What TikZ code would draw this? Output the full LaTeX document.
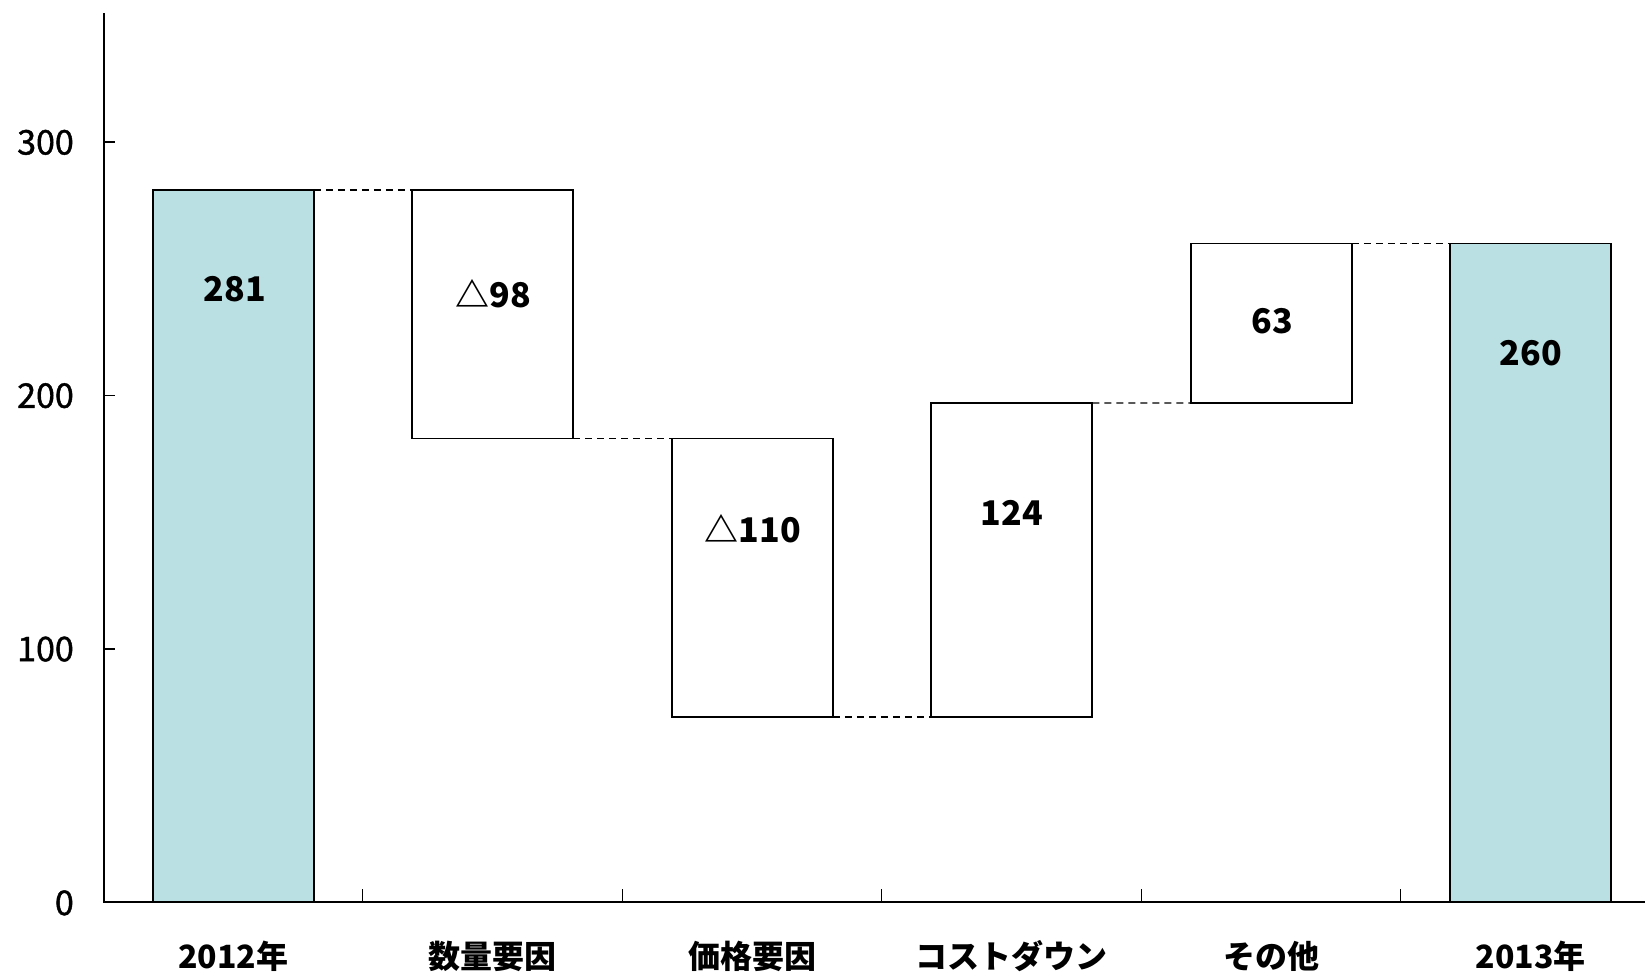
\documentclass[tikz,border=0pt]{standalone}
\usepackage{fontspec}
\setmainfont{Noto Sans CJK JP}
\newfontfamily\tickfont[FakeBold=1.2]{Noto Sans CJK JP}
\begin{document}
\begin{tikzpicture}[x=1pt,y=-1pt,
  axisline/.style={line width=2pt,black},
  barbox/.style={draw=black,line width=1.6pt,inner sep=0pt,outer sep=0pt,minimum width=161pt,anchor=north},
  total/.style={barbox,fill=barfill},
  delta/.style={barbox,fill=white},
  link/.style={line width=1.3pt,dash pattern=on 7pt off 5pt},
  vlabel/.style={anchor=base,inner sep=0pt,font=\fontsize{34}{40}\selectfont\bfseries},
  catlabel/.style={anchor=base,inner sep=0pt,font=\fontsize{32}{38}\selectfont\bfseries},
  ticklabel/.style={anchor=base east,inner sep=0pt,font=\fontsize{34}{40}\tickfont\selectfont}]
\definecolor{barfill}{RGB}{187,224,227}
\useasboundingbox (0,0) rectangle (1645,972);
% axes
\coordinate (ytop) at (103.5,13);
\coordinate (origin) at (103.5,902);
\coordinate (xend) at (1645,902);
\draw[axisline] (ytop) -- (origin) -- (xend);
% y ticks
\foreach \v/\y in {300/142,200/395.3,100/648.7}{
  \draw[line width=1.6pt] (103.5,\y) -- (115,\y);
  \node[ticklabel] at (74,\y+12.5) {\v};
}
\node[ticklabel] at (74,915) {0};
% x ticks
\foreach \x in {362.75,622.25,881.75,1141.25,1400.75}{
  \draw[line width=1.4pt] (\x,902) -- (\x,889);
}
% bars
\node[total, minimum height=711.9pt] (b1) at (233.25,190.1) {};
\node[delta, minimum height=248.3pt] (b2) at (492.75,190.1) {};
\node[delta, minimum height=278.7pt] (b3) at (752.25,438.4) {};
\node[delta, minimum height=314.2pt] (b4) at (1011.75,402.9) {};
\node[delta, minimum height=159.6pt] (b5) at (1271.25,243.3) {};
\node[total, minimum height=658.7pt] (b6) at (1530.75,243.3) {};
\draw[axisline] (origin) -- (xend);
% connectors
\draw[link] (b1.north east) -- (b2.north west);
\draw[link] (b2.south east) -- (b3.north west);
\draw[link] (b3.south east) -- (b4.south west);
\draw[link] (b4.north east) -- (b5.south west);
\draw[link] (b5.north east) -- (b6.north west);
% value labels
\node[vlabel] (l1) at (235,301) {281};
\node[vlabel] (l2) at (493,307) {△98};
\node[vlabel] (l3) at (753,542.5) {△110};
\node[vlabel] (l4) at (1012,525) {124};
\node[vlabel] (l5) at (1272,333) {63};
\node[vlabel] (l6) at (1531,365) {260};
% category labels
\node[catlabel] (c1) at (233.25,968) {2012年};
\node[catlabel] (c2) at (492.75,968) {数量要因};
\node[catlabel] (c3) at (752.25,968) {価格要因};
\node[catlabel] (c4) at (1011.75,968) {コストダウン};
\node[catlabel] (c5) at (1271.25,968) {その他};
\node[catlabel] (c6) at (1530.75,968) {2013年};
\end{tikzpicture}
\end{document}
